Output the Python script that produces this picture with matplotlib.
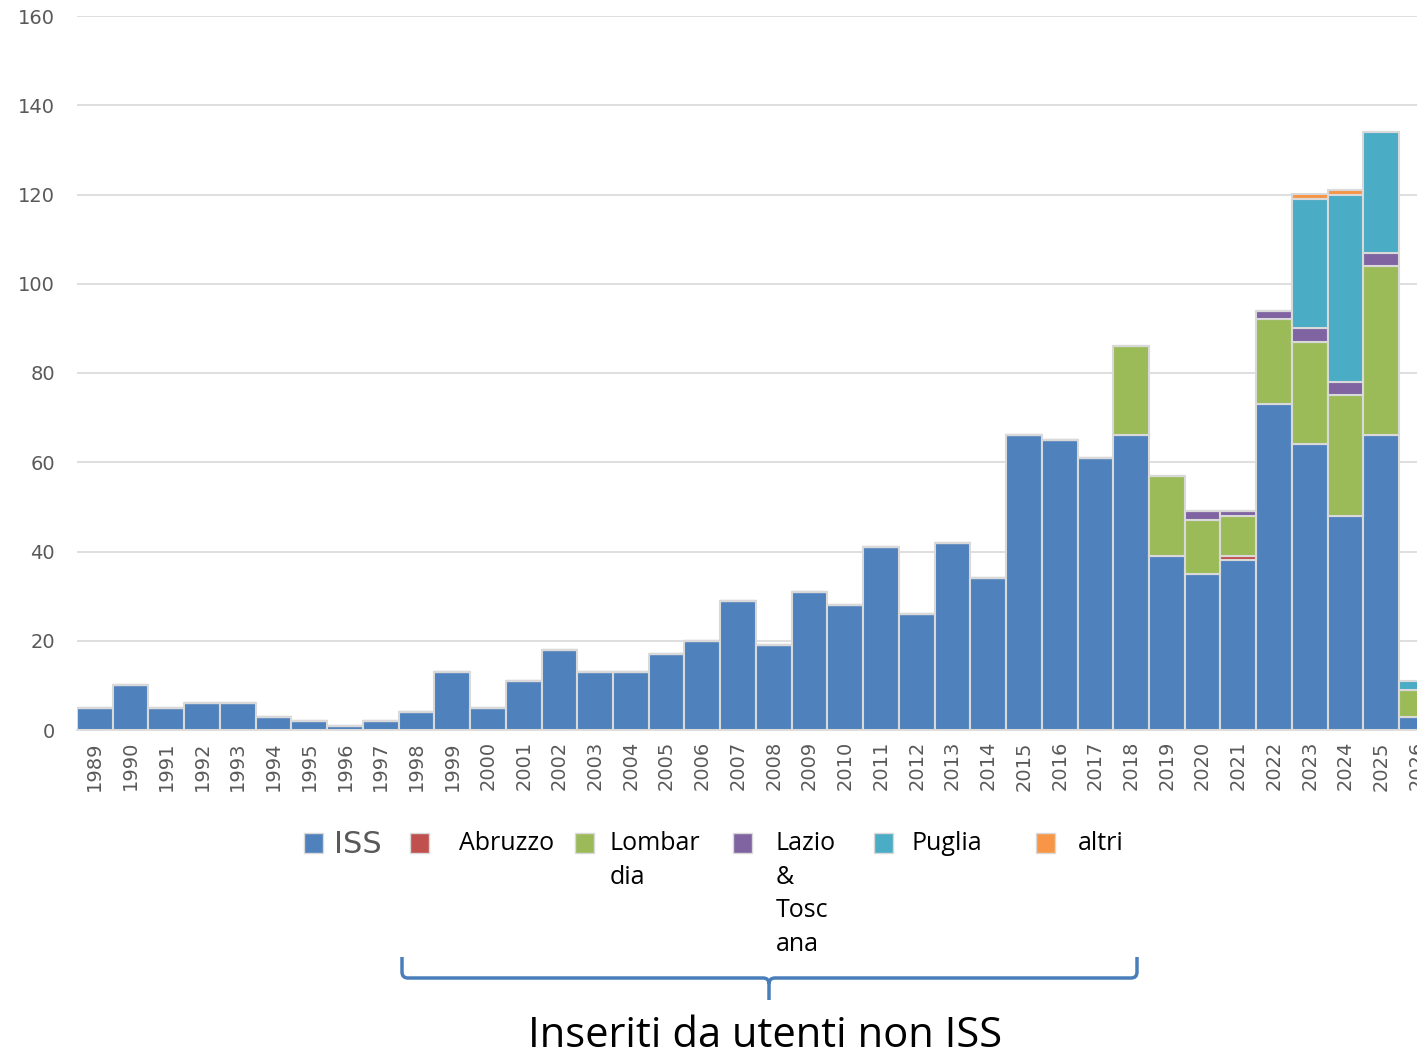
import numpy as np
import matplotlib
matplotlib.use("Agg")
import matplotlib.pyplot as plt
from matplotlib.path import Path
from matplotlib.patches import PathPatch, Rectangle

years = list(range(1989, 2027))
iss = [5, 10, 5, 6, 6, 3, 2, 1, 2, 4, 13, 5, 11, 18, 13, 13, 17, 20, 29, 19,
       31, 28, 41, 26, 42, 34, 66, 65, 61, 66, 39, 35, 38, 73, 64, 48, 66, 3]
abruzzo = [0] * 32 + [1, 0, 0, 0, 0, 0]
lombardia = [0] * 29 + [20, 18, 12, 9, 19, 23, 27, 38, 6]
lazio = [0] * 31 + [2, 1, 2, 3, 3, 3, 0]
puglia = [0] * 34 + [29, 42, 27, 2]
altri = [0] * 34 + [1, 1, 0, 0]

series = [("ISS", iss, "#4f81bd"),
          ("Abruzzo", abruzzo, "#c0504d"),
          ("Lombar\ndia", lombardia, "#9bbb59"),
          ("Lazio\n&\nTosc\nana", lazio, "#8064a2"),
          ("Puglia", puglia, "#4bacc6"),
          ("altri", altri, "#f79646")]

W, H = 1417, 1057
fig = plt.figure(figsize=(W / 100, H / 100), dpi=100)
ax = fig.add_axes([77 / W, 1 - 730 / H, 1 - 77 / W, (730 - 16) / H])

bottom = np.zeros(len(years))
for name, vals, col in series:
    v = np.array(vals, dtype=float)
    ax.bar(years, v, width=1.0, bottom=bottom, color=col,
           edgecolor="#d9d9d9", linewidth=1.5, zorder=3)
    bottom += v

ax.set_ylim(0, 160)
ax.set_xlim(1988.5, 2025.92)
ax.set_yticks(range(0, 161, 20))
ax.set_xticks(years)
ax.set_xticklabels([str(y) for y in years], rotation=90,
                   fontsize=14, color="#595959", family="Liberation Sans Narrow")
ax.tick_params(axis="y", labelsize=14, labelcolor="#595959", length=0, pad=16)
ax.tick_params(axis="x", length=0, pad=8)
ax.grid(axis="y", color="#d9d9d9", linewidth=1.2, zorder=0)
for s in ["top", "right", "left"]:
    ax.spines[s].set_visible(False)
ax.spines["bottom"].set_color("#d9d9d9")
ax.spines["bottom"].set_linewidth(1.2)

# legend drawn by hand to copy the wrapped layout
sq = [(304, 334), (410, 459), (575, 610), (733, 776), (874, 912), (1036, 1078)]
for (name, vals, col), (sx, tx) in zip(series, sq):
    fig.patches.append(Rectangle((sx / W, 1 - 853 / H), 19 / W, 20 / H,
                                 transform=fig.transFigure, facecolor=col,
                                 edgecolor="#d9d9d9", linewidth=1))
    if name == "ISS":
        fig.text(tx / W, 1 - 830 / H, name, fontsize=22, color="#595959",
                 family="Liberation Sans Narrow", va="top", ha="left")
    else:
        fig.text(tx / W, 1 - 831 / H, name, fontsize=18, color="black",
                 family="Open Sans", va="top", ha="left", linespacing=1.45)

# curly brace under the legend
def P(x, y):
    return (x / W, 1 - y / H)

verts = [P(402, 957), P(402, 972), P(402, 978), P(408, 978),
         P(763, 978), P(769, 978), P(769, 984), P(769, 1000),
         P(769, 984), P(769, 978), P(775, 978), P(1131, 978),
         P(1137, 978), P(1137, 972), P(1137, 957)]
codes = [Path.MOVETO, Path.LINETO, Path.CURVE3, Path.CURVE3,
         Path.LINETO, Path.CURVE3, Path.CURVE3, Path.LINETO,
         Path.MOVETO, Path.CURVE3, Path.CURVE3, Path.LINETO,
         Path.CURVE3, Path.CURVE3, Path.LINETO]
fig.patches.append(PathPatch(Path(verts, codes), transform=fig.transFigure,
                             fill=False, edgecolor="#4a7ebb", linewidth=2.5))

fig.text(765 / W, 1 - 1036 / H, "Inseriti da utenti non ISS", fontsize=30,
         color="black", family="Open Sans", ha="center", va="center")

fig.savefig("out.png", dpi=100)
